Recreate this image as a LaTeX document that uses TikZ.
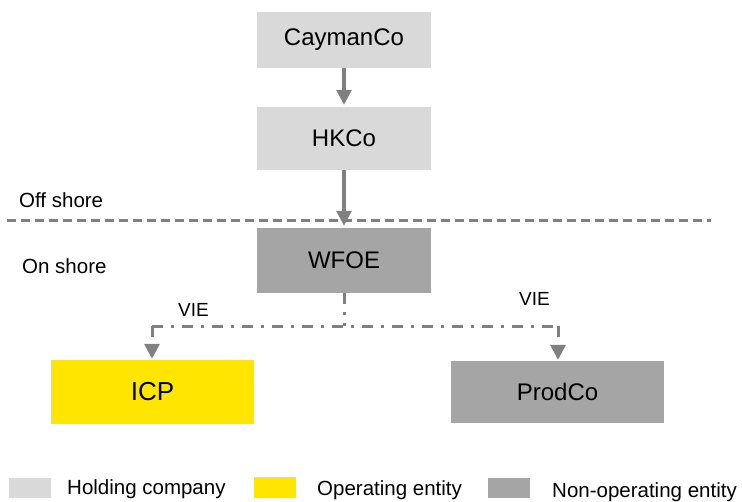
\documentclass[tikz,border=0pt]{standalone}
\usepackage{fontspec}
\setmainfont{Liberation Sans}
\usetikzlibrary{arrows.meta}
\definecolor{holdc}{HTML}{D9D9D9}
\definecolor{opc}{HTML}{FFE600}
\definecolor{nonopc}{HTML}{A5A5A5}
\definecolor{linec}{HTML}{808080}
\begin{document}
\begin{tikzpicture}[x=1pt,y=-1pt,
  box/.style={minimum width=174pt,inner sep=0pt,font=\fontsize{24}{28}\selectfont},
  arr/.style={draw=linec,line width=3.2pt,shorten >=2pt,-{Triangle[length=15pt,width=15pt]}},
  vie/.style={draw=linec,line width=3pt,dash pattern=on 11pt off 8pt on 3pt off 8pt},
  lbl/.style={font=\fontsize{20.5}{24}\selectfont,inner sep=0pt,anchor=base west},
  legbox/.style={minimum width=42pt,minimum height=20pt,inner sep=0pt}]
\useasboundingbox (0,0) rectangle (742,501);
% boxes
\node[box,fill=holdc,minimum height=56pt] (cay) at (344,40) {CaymanCo};
\node[box,fill=holdc,minimum height=63pt] (hk) at (344,138.5) {HKCo};
\node[box,fill=nonopc,minimum height=65pt] (wfoe) at (344,260.5) {WFOE};
\node[fill=opc,minimum width=203pt,minimum height=64pt,inner sep=0pt,font=\fontsize{26}{30}\selectfont] (icp) at (152.5,392) {ICP};
\node[fill=nonopc,minimum width=213pt,minimum height=62pt,inner sep=0pt,font=\fontsize{24}{28}\selectfont] (prod) at (557.5,392) {ProdCo};
% off/on shore divider
\coordinate (ds) at (7,220);
\coordinate (de) at (711,220);
\draw[draw=linec,line width=3pt,dash pattern=on 9pt off 5pt] (ds) -- (de);
\node[lbl] (off) at (19,207) {Off shore};
\node[lbl] (on) at (22,273) {On shore};
% ownership arrows
\draw[arr] (cay.south) -- (hk.north);
\draw[arr] (hk.south) -- (wfoe.north);
% VIE connectors
\coordinate (mid) at (344,326);
\coordinate (lc) at (152,326);
\coordinate (rc) at (558,326);
\coordinate (la) at (152,345);
\coordinate (ra) at (558,345);
\draw[vie] (wfoe.south) -- (mid);
\draw[vie] (lc) -- (rc);
\draw[vie] (lc) -- (la);
\draw[vie] (rc) -- (ra);
\draw[arr,shorten >=1pt] (la) -- (la |- icp.north);
\draw[arr,shorten >=1pt] (ra) -- (ra |- prod.north);
\node[lbl,font=\fontsize{19}{22}\selectfont] (v1) at (178,316) {VIE};
\node[lbl,font=\fontsize{19}{22}\selectfont] (v2) at (519,305) {VIE};
% legend
\node[legbox,fill=holdc] (l1) at (29.5,488) {};
\node[legbox,fill=opc,minimum height=21pt] (l2) at (275,487.5) {};
\node[legbox,fill=nonopc] (l3) at (509,487.5) {};
\node[lbl] (t1) at (67,494) {Holding company};
\node[lbl] (t2) at (317,495) {Operating entity};
\node[lbl] (t3) at (552,497) {Non-operating entity};
\end{tikzpicture}
\end{document}
